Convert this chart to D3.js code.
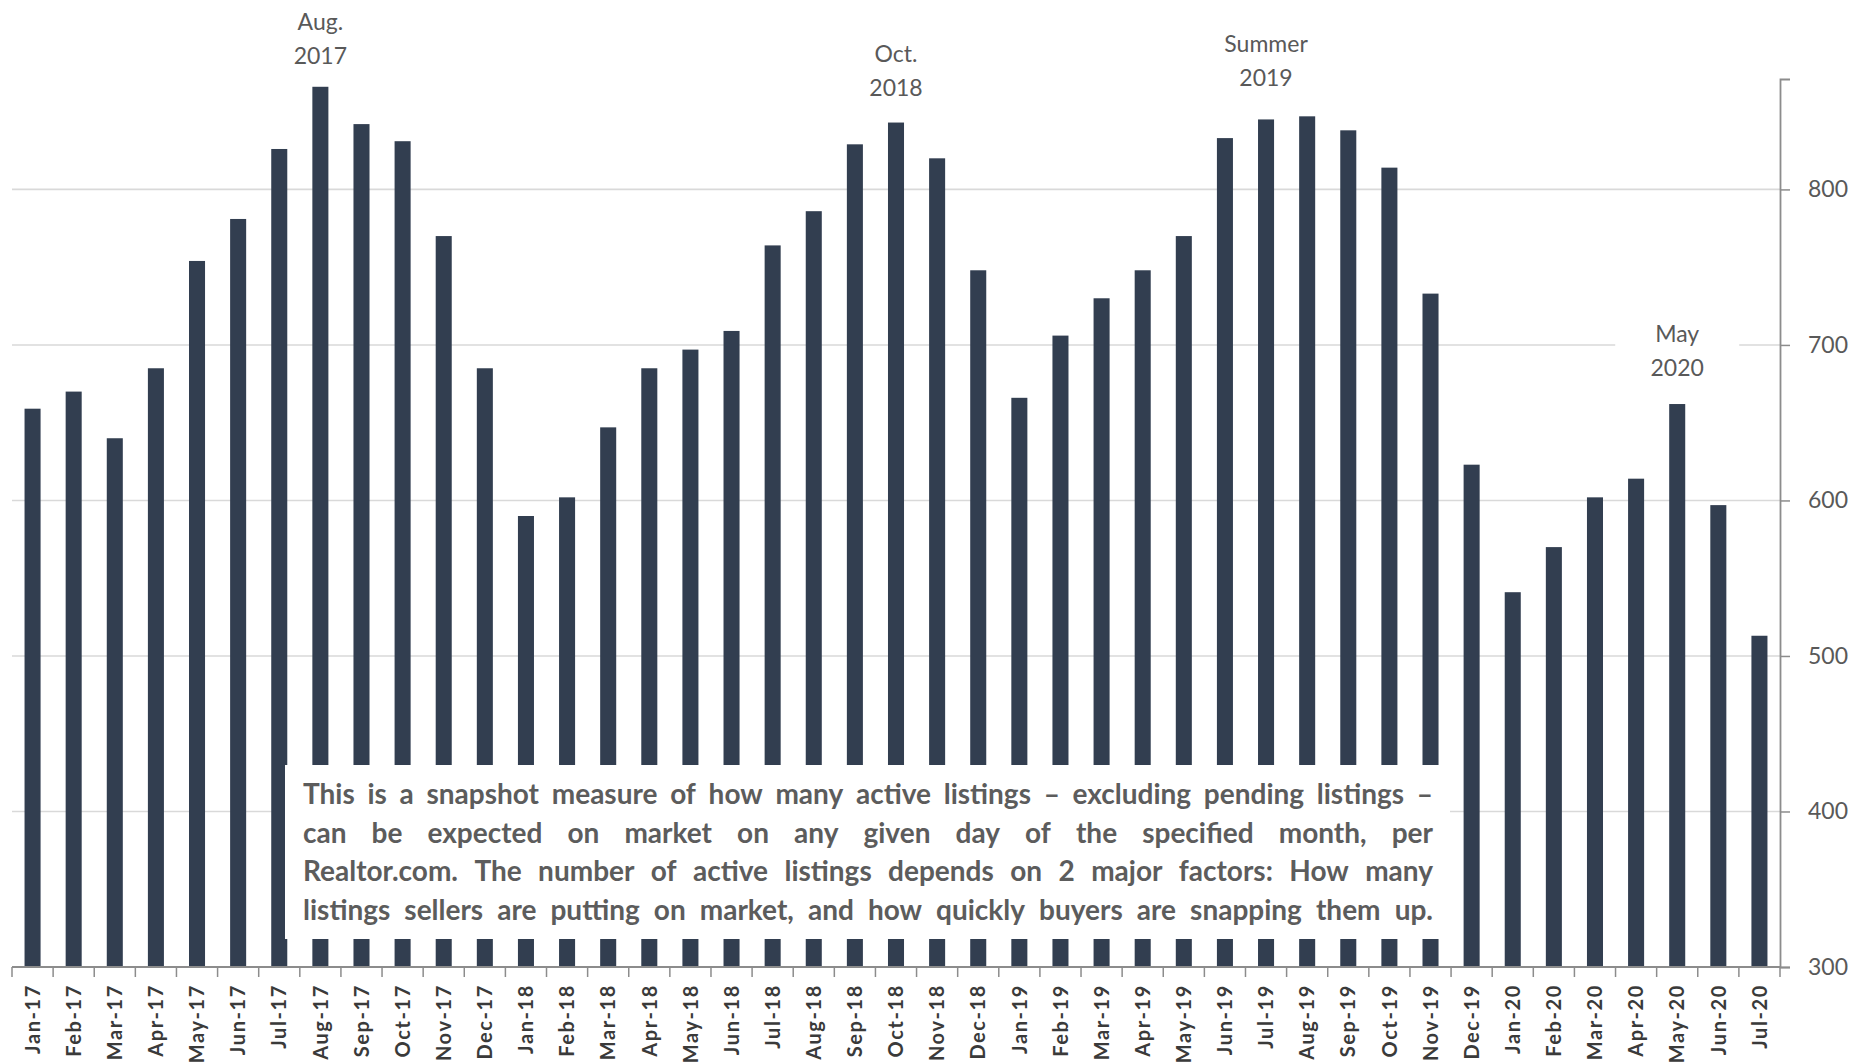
<!DOCTYPE html>
<html>
<head>
<meta charset="utf-8">
<script src="https://cdn.jsdelivr.net/npm/d3@7"></script>
<style>
  html, body { margin: 0; padding: 0; background: #ffffff; }
  svg { display: block; }
  text { font-family: Lato, "Open Sans", sans-serif; }
</style>
</head>
<body>
<svg id="chart" width="1853" height="1064"></svg>
<script>
// Active listings per month, Jan 2017 – Jul 2020
const months = [
  "Jan-17","Feb-17","Mar-17","Apr-17","May-17","Jun-17","Jul-17","Aug-17","Sep-17","Oct-17","Nov-17","Dec-17",
  "Jan-18","Feb-18","Mar-18","Apr-18","May-18","Jun-18","Jul-18","Aug-18","Sep-18","Oct-18","Nov-18","Dec-18",
  "Jan-19","Feb-19","Mar-19","Apr-19","May-19","Jun-19","Jul-19","Aug-19","Sep-19","Oct-19","Nov-19","Dec-19",
  "Jan-20","Feb-20","Mar-20","Apr-20","May-20","Jun-20","Jul-20"
];
const listings = [
  659, 670, 640, 685, 754, 781, 826, 866, 842, 831, 770, 685,
  590, 602, 647, 685, 697, 709, 764, 786, 829, 843, 820, 748,
  666, 706, 730, 748, 770, 833, 845, 847, 838, 814, 733, 623,
  541, 570, 602, 614, 662, 597, 513
];
const yTicks = [300, 400, 500, 600, 700, 800];

// Peak callouts: which month they sit over, and their two text lines
const calloutMonths = ["Aug-17", "Oct-18", "Jul-19", "May-20"];
const calloutTop = ["Aug.", "Oct.", "Summer", "May"];
const calloutBottom = ["2017", "2018", "2019", "2020"];
const calloutBoxed = [false, false, false, true];
// distance (px) from bar top to the lower callout baseline
const calloutLift = [23, 27, 33, 28];

const noteLines = [
  "This is a snapshot measure of how many active listings \u2013 excluding pending listings \u2013",
  "can be expected on market on any given day of the specified month, per",
  "Realtor.com. The number of active listings depends on 2 major factors: How many",
  "listings sellers are putting on market, and how quickly buyers are snapping them up."
];

const svg = d3.select("#chart");
const plotLeft = 12, plotRight = 1780, plotTop = 79, plotBottom = 967;

const x = d3.scaleBand()
  .domain(months)
  .range([plotLeft, plotRight])
  .paddingInner(0.61)
  .paddingOuter(0.305);

const y = d3.scaleLinear()
  .domain([300, 871])
  .range([plotBottom, plotTop]);

const gridColor = "#d9d9d9";
const axisColor = "#8c8c8c";

// Horizontal gridlines
svg.append("g")
  .selectAll("line")
  .data(yTicks.filter(v => v > 300))
  .join("line")
  .attr("x1", plotLeft).attr("x2", plotRight)
  .attr("y1", d => y(d)).attr("y2", d => y(d))
  .attr("stroke", gridColor)
  .attr("stroke-width", 1.6);

// Bars
svg.append("g")
  .selectAll("rect")
  .data(months)
  .join("rect")
  .attr("x", d => x(d))
  .attr("width", x.bandwidth())
  .attr("y", (d, i) => y(listings[i]))
  .attr("height", (d, i) => y(300) - y(listings[i]))
  .attr("fill", "#323e50");

// Right value axis
const yAxis = svg.append("g")
  .attr("transform", `translate(${plotRight},0)`)
  .call(d3.axisRight(y).tickValues(yTicks).tickSize(10).tickPadding(18).tickFormat(d3.format("d")));
yAxis.select(".domain").attr("stroke", axisColor).attr("stroke-width", 1.8);
yAxis.selectAll(".tick line").attr("stroke", axisColor).attr("stroke-width", 1.5);
yAxis.selectAll(".tick text")
  .attr("fill", "#595959")
  .style("font-size", "23px")
  .style("font-family", "Lato, sans-serif");

// Bottom category axis: ticks on month boundaries, labels rotated
const xAxis = svg.append("g").attr("transform", `translate(0,${plotBottom})`);
xAxis.append("line")
  .attr("x1", plotLeft).attr("x2", plotRight)
  .attr("stroke", axisColor).attr("stroke-width", 1.8);
const boundaries = d3.range(months.length + 1).map(i => plotLeft + i * x.step());
xAxis.selectAll("line.tick")
  .data(boundaries)
  .join("line")
  .attr("class", "tick")
  .attr("x1", d => d).attr("x2", d => d)
  .attr("y1", 0).attr("y2", 10)
  .attr("stroke", axisColor).attr("stroke-width", 1.5);
xAxis.selectAll("text")
  .data(months)
  .join("text")
  .attr("transform", d => `translate(${x(d) + x.bandwidth() / 2},17) rotate(-90)`)
  .attr("text-anchor", "end")
  .attr("dy", "0.36em")
  .attr("fill", "#3a3a3a")
  .style("font-size", "20px")
  .style("font-weight", "700")
  .style("letter-spacing", "1.6px")
  .text(d => d);

// Explanatory note over the middle of the chart
const note = svg.append("g");
const boxX = 285, boxY = 765, boxW = 1165, boxH = 174;
note.append("rect")
  .attr("x", boxX).attr("y", boxY)
  .attr("width", boxW).attr("height", boxH)
  .attr("fill", "#ffffff");

const textLeft = 303, textRight = 1433, firstBase = 804, lineGap = 38.7;

// Pick the font size so the longest line fills the text width with normal spacing
const probe = note.append("text")
  .style("font-size", "20px").style("font-weight", "700")
  .text(noteLines[0]);
const widest = d3.max(noteLines, l => { probe.text(l); return probe.node().getComputedTextLength(); });
probe.remove();
const noteSize = Math.min(28, 20 * (textRight - textLeft) / widest);

noteLines.forEach((line, li) => {
  const words = line.split(" ");
  const yBase = firstBase + li * lineGap;
  const nodes = words.map(w => note.append("text")
    .attr("y", yBase)
    .attr("fill", "#5c5c5c")
    .style("font-size", noteSize + "px")
    .style("font-weight", "700")
    .text(w));
  const widths = nodes.map(n => n.node().getComputedTextLength());
  const total = d3.sum(widths);
  const gap = (textRight - textLeft - total) / (words.length - 1);
  let cx = textLeft;
  nodes.forEach((n, i) => {
    n.attr("x", cx);
    cx += widths[i] + gap;
  });
});

// Peak callouts above the bars
const callouts = svg.append("g");
calloutMonths.forEach((m, i) => {
  const idx = months.indexOf(m);
  const cx = x(m) + x.bandwidth() / 2;
  const base2 = y(listings[idx]) - calloutLift[i];
  const base1 = base2 - 34;
  if (calloutBoxed[i]) {
    callouts.append("rect")
      .attr("x", cx - 62).attr("y", base1 - 28)
      .attr("width", 124).attr("height", 74)
      .attr("fill", "#ffffff");
  }
  [calloutTop[i], calloutBottom[i]].forEach((t, k) => {
    callouts.append("text")
      .attr("x", cx)
      .attr("y", k === 0 ? base1 : base2)
      .attr("text-anchor", "middle")
      .attr("fill", "#595959")
      .style("font-size", "23px")
      .text(t);
  });
});
</script>
</body>
</html>
